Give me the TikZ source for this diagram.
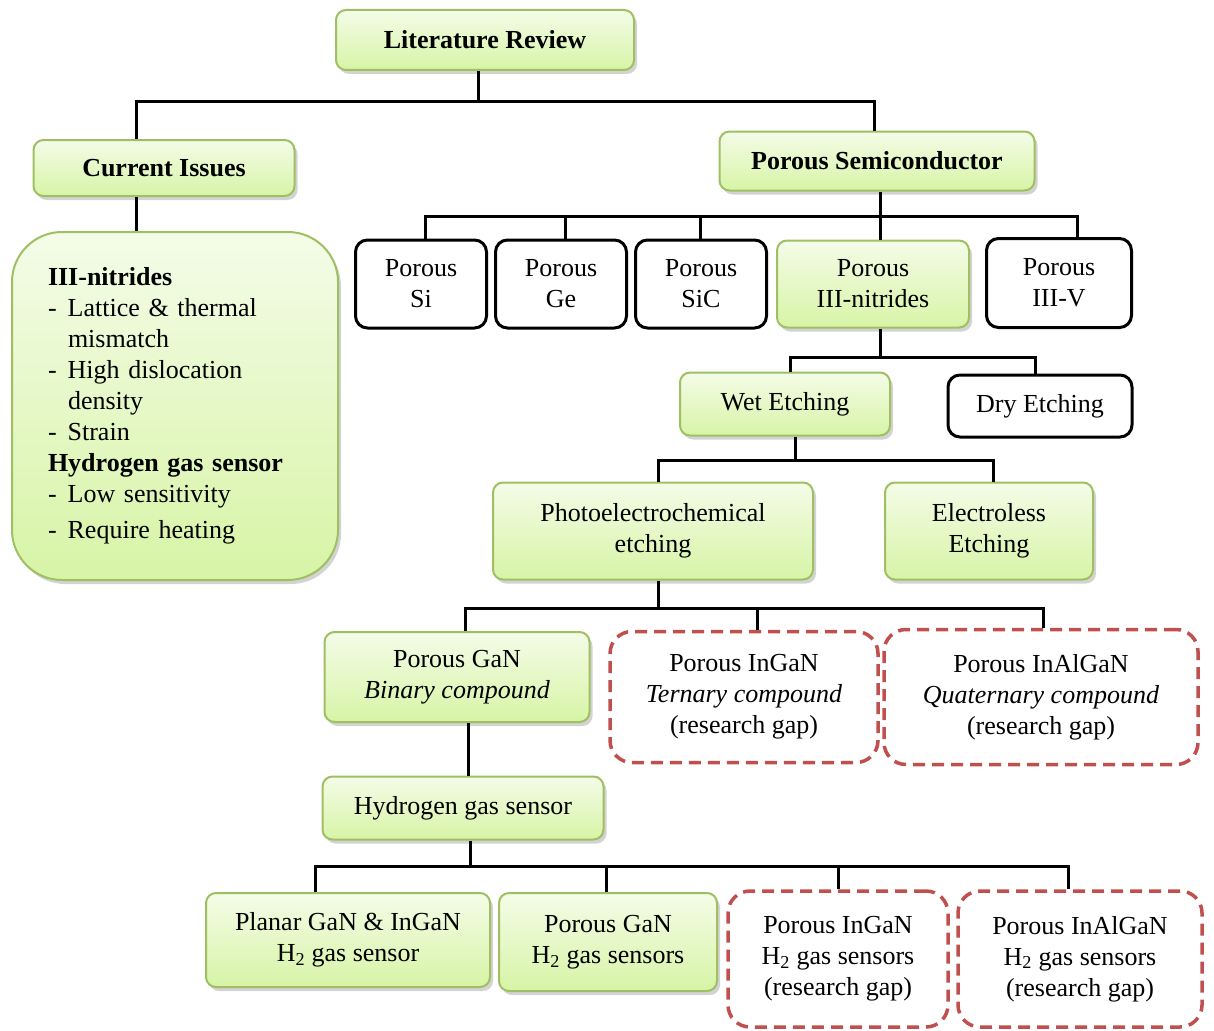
\documentclass[tikz,border=0pt]{standalone}
\usepackage{fontspec}
\setmainfont{Liberation Serif}
\usetikzlibrary{shadows}

\definecolor{boxgreen}{HTML}{9FC062}
\definecolor{greentop}{HTML}{F4FCE8}
\definecolor{greenbot}{HTML}{D7F4A6}
\definecolor{gapred}{HTML}{C0504D}

\tikzset{
  every node/.style={font=\fontsize{26}{31}\selectfont},
  titlefont/.style={font=\fontsize{26}{31}\selectfont\bfseries},
  greenbox/.style={draw=boxgreen, line width=2pt, rounded corners=10pt,
    top color=greentop, bottom color=greenbot, align=center, inner sep=0pt,
    drop shadow={opacity=0.35, shadow xshift=3pt, shadow yshift=-4pt}},
  blackbox/.style={draw=black, line width=3pt, rounded corners=12pt,
    fill=white, align=center, inner sep=0pt},
  gapbox/.style={draw=gapred, line width=3.5pt, dash pattern=on 12pt off 7pt,
    rounded corners=22pt, fill=white, align=center, inner sep=0pt},
  link/.style={line width=3pt}
}

\newcommand\dashitem{-\hspace{11pt}}
\newcommand\contline{\hspace*{20pt}}

\begin{document}
\begin{tikzpicture}[x=1pt,y=-1pt]

\useasboundingbox (0,0) rectangle (1214,1030);

%% top levels
\node[greenbox, titlefont, minimum width=298, minimum height=60] (lit) at (485,40) {Literature Review};
\node[greenbox, titlefont, minimum width=261, minimum height=56] (cur) at (164,168) {Current Issues};
\node[greenbox, titlefont, minimum width=315, minimum height=59] (semi) at (877,161) {Porous Semiconductor};

\node[greenbox, rounded corners=50pt, minimum height=348, text width=254, inner xsep=36pt, align=left] (issues) at (175,406)
  {\textbf{III-nitrides}\\
   \dashitem Lattice \& thermal\\
   \contline mismatch\\
   \dashitem High dislocation\\
   \contline density\\
   \dashitem Strain\\
   \textbf{Hydrogen gas sensor}\\
   \dashitem Low sensitivity\\[5pt]
   \dashitem Require heating};

%% porous materials
\node[blackbox, minimum width=131, minimum height=88] (si) at (421,284) {Porous\\Si};
\node[blackbox, minimum width=131, minimum height=88] (ge) at (561,284) {Porous\\Ge};
\node[blackbox, minimum width=131, minimum height=88] (sic) at (701,284) {Porous\\SiC};
\node[greenbox, minimum width=192, minimum height=87] (nit) at (873,284) {Porous\\III-nitrides};
\node[blackbox, minimum width=145, minimum height=89] (iiiv) at (1059,283) {Porous\\III-V};

%% etching
\node[greenbox, minimum width=210, minimum height=63] (wet) at (785,404) {Wet Etching};
\node[blackbox, minimum width=184, minimum height=62] (dry) at (1040,406) {Dry Etching};
\node[greenbox, minimum width=320, minimum height=97] (pec) at (653,531) {Photoelectrochemical\\etching};
\node[greenbox, minimum width=208, minimum height=97] (eless) at (989,531) {Electroless\\Etching};

%% compounds
\node[greenbox, minimum width=265, minimum height=90] (gan) at (457,677) {Porous GaN\\\textit{Binary compound}};
\node[gapbox, minimum width=268, minimum height=131] (ingan) at (744,697) {Porous InGaN\\\textit{Ternary compound}\\(research gap)};
\node[gapbox, minimum width=314, minimum height=135] (inalgan) at (1041,697) {Porous InAlGaN\\\textit{Quaternary compound}\\(research gap)};

%% sensors
\node[greenbox, minimum width=281, minimum height=63] (hgs) at (463,808) {Hydrogen gas sensor};
\node[greenbox, minimum width=284, minimum height=94] (planar) at (348,940) {Planar GaN \& InGaN\\H\textsubscript{2} gas sensor};
\node[greenbox, minimum width=218, minimum height=98] (pgan) at (608,942) {Porous GaN\\H\textsubscript{2} gas sensors};
\node[gapbox, minimum width=220, minimum height=136] (pingan) at (838,959) {Porous InGaN\\H\textsubscript{2} gas sensors\\(research gap)};
\node[gapbox, minimum width=244, minimum height=136] (pinalgan) at (1080,959) {Porous InAlGaN\\H\textsubscript{2} gas sensors\\(research gap)};

%% connectors
\coordinate (b1) at (478,102);
\draw[link] (lit.south -| b1) -- (b1);
\draw[link] ([xshift=-28pt]cur.north) |- (b1) -| ([xshift=-3pt]semi.north);
\draw[link] ([xshift=-28pt]cur.south) -- ([xshift=-28pt]cur.south |- issues.north);

\coordinate (b2) at (880,216);
\draw[link] (semi.south -| b2) -- (b2);
\draw[link] ([xshift=4pt]si.north) |- (b2) -| ([xshift=18pt]iiiv.north);
\foreach \n/\dx in {ge/4,sic/-1,nit/7}
  \draw[link] ([xshift=\dx pt]\n.north) -- ([xshift=\dx pt]\n.north |- b2);

\coordinate (b3) at (880,357);
\draw[link] (nit.south -| b3) -- (b3);
\draw[link] ([xshift=5pt]wet.north) |- (b3) -| ([xshift=-5pt]dry.north);

\coordinate (b4) at (795,460);
\draw[link] (wet.south -| b4) -- (b4);
\draw[link] ([xshift=5pt]pec.north) |- (b4) -| ([xshift=4pt]eless.north);

\coordinate (b5) at (658,608);
\draw[link] (pec.south -| b5) -- (b5);
\draw[link] ([xshift=8pt]gan.north) |- (b5) -| ([xshift=2pt]inalgan.north);
\draw[link] ([xshift=13pt]ingan.north) -- ([xshift=13pt]ingan.north |- b5);

\draw[link] ([xshift=11pt]gan.south) -- ([xshift=11pt]gan.south |- hgs.north);

\coordinate (b6) at (470,866);
\draw[link] (hgs.south -| b6) -- (b6);
\draw[link] ([xshift=-33pt]planar.north) |- (b6) -| ([xshift=-12pt]pinalgan.north);
\foreach \n/\dx in {pgan/-2,pingan/0}
  \draw[link] ([xshift=\dx pt]\n.north) -- ([xshift=\dx pt]\n.north |- b6);

\end{tikzpicture}
\end{document}
